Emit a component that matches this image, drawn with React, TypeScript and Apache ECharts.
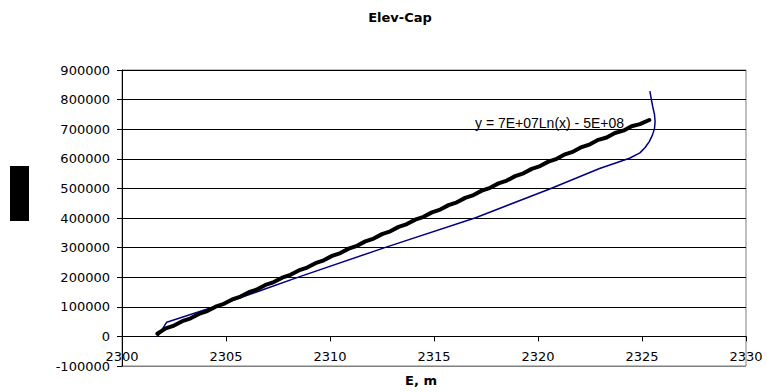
import React, { useEffect, useRef } from "react";
import * as echarts from "echarts";

const title = "Elev-Cap";
const xAxisName = "E, m";
const trendLabel = "y = 7E+07Ln(x) - 5E+08";

// Black (thick) series: elevation vs capacity
const blackX = [
  2301.7, 2302.1, 2302.5, 2302.9, 2303.3, 2303.7, 2304.1, 2304.5, 2304.9, 2305.3,
  2305.7, 2306.1, 2306.5, 2306.9, 2307.3, 2307.7, 2308.1, 2308.5, 2308.9, 2309.3,
  2309.7, 2310.1, 2310.5, 2310.9, 2311.3, 2311.7, 2312.1, 2312.5, 2312.9, 2313.3,
  2313.7, 2314.1, 2314.5, 2314.9, 2315.3, 2315.7, 2316.1, 2316.5, 2316.9, 2317.3,
  2317.7, 2318.1, 2318.5, 2318.9, 2319.3, 2319.7, 2320.1, 2320.5, 2320.9, 2321.3,
  2321.7, 2322.1, 2322.5, 2322.9, 2323.3, 2323.7, 2324.1, 2324.5, 2324.9, 2325.35,
];
const blackY = [
  9000, 27000, 36500, 51500, 61000, 76000, 85500, 100500, 110000, 125000,
  134500, 149500, 159000, 174000, 183500, 198500, 208000, 223000, 232500, 247500,
  257000, 272000, 281500, 296500, 306000, 321000, 330500, 345500, 355000, 370000,
  379500, 394500, 404000, 419000, 428500, 443500, 453000, 468000, 477500, 492500,
  502000, 517000, 526500, 541500, 551000, 566000, 575500, 590500, 600000, 615000,
  624500, 639500, 649000, 664000, 672000, 687000, 695000, 710000, 717000, 731000,
];

// Blue (thin) series
const blueX = [
  2301.72, 2302.15, 2304.7, 2308.55, 2312.63, 2317.0, 2320.56, 2322.96, 2324.4,
  2324.9, 2325.15, 2325.35, 2325.5, 2325.6, 2325.63, 2325.6, 2325.52, 2325.45, 2325.38,
];
const blueY = [
  0, 48000, 106000, 202000, 300000, 401000, 498000, 567000, 602000,
  620000, 638000, 658000, 680000, 702000, 725000, 750000, 775000, 800000, 829000,
];

const xMin = 2300;
const xMax = 2330;
const xStep = 5;
const yMin = -100000;
const yMax = 900000;
const yStep = 100000;

export default function App() {
  const ref = useRef<HTMLDivElement>(null);
  useEffect(() => {
    document.body.style.margin = "0";
    if (!ref.current) return;
    const chart = echarts.init(ref.current, undefined, { renderer: "svg" });
    const tickFont = "DejaVu Sans";
    const gridTop = 70;
    const gridBottom = 26;
    const plotH = 392 - gridTop - gridBottom;
    const zeroOffset = (plotH * (0 - yMin)) / (yMax - yMin);
    const splitColors = ["#808080"];
    for (let i = 1; i <= (yMax - yMin) / yStep; i++) splitColors.push("#000000");
    chart.setOption({
      animation: false,
      backgroundColor: "#ffffff",
      grid: {
        left: 122,
        right: 21,
        top: gridTop,
        bottom: gridBottom,
        show: true,
        borderColor: "#808080",
        borderWidth: 1,
        backgroundColor: "transparent",
      },
      xAxis: {
        type: "value",
        min: xMin,
        max: xMax,
        interval: xStep,
        offset: -zeroOffset,
        splitLine: { show: false },
        axisLine: { show: true, onZero: false, lineStyle: { color: "#000", width: 1 } },
        axisTick: { show: true, inside: false, length: 5, lineStyle: { color: "#000" } },
        axisLabel: {
          color: "#000",
          fontFamily: tickFont,
          fontSize: 13,
          margin: 14,
          formatter: (v: number) => String(v),
        },
      },
      yAxis: {
        type: "value",
        min: yMin,
        max: yMax,
        interval: yStep,
        axisLine: { show: true, onZero: false, lineStyle: { color: "#000", width: 1 } },
        axisTick: { show: true, inside: false, length: 5, lineStyle: { color: "#000" } },
        axisLabel: {
          color: "#000",
          fontFamily: tickFont,
          fontSize: 13,
          margin: 12,
          formatter: (v: number) => String(v),
        },
        splitLine: { show: true, lineStyle: { color: splitColors, width: 1 } },
      },
      series: [
        {
          type: "line",
          name: "blue",
          data: blueX.map((x, i) => [x, blueY[i]]),
          showSymbol: false,
          symbol: "none",
          lineStyle: { color: "#000080", width: 1.5 },
          z: 3,
        },
        {
          type: "line",
          name: "black",
          data: blackX.map((x, i) => [x, blackY[i]]),
          showSymbol: false,
          symbol: "none",
          lineStyle: { color: "#000000", width: 4, join: "round", cap: "round" },
          z: 4,
        },
      ],
      graphic: [
        {
          type: "text",
          x: 400,
          y: 17,
          style: {
            text: title,
            fontFamily: "DejaVu Sans",
            fontWeight: "bold",
            fontSize: 13,
            fill: "#000",
            align: "center",
            verticalAlign: "middle",
          },
        },
        {
          type: "text",
          x: 421,
          y: 380,
          style: {
            text: xAxisName,
            fontFamily: "DejaVu Sans",
            fontWeight: "bold",
            fontSize: 13,
            fill: "#000",
            align: "center",
            verticalAlign: "middle",
          },
        },
        {
          type: "text",
          x: 475,
          y: 123,
          z: 10,
          style: {
            text: trendLabel,
            fontFamily: "Liberation Sans",
            fontSize: 14,
            fill: "#000",
            align: "left",
            verticalAlign: "middle",
          },
        },
        {
          type: "rect",
          shape: { x: 10, y: 166, width: 19, height: 55 },
          style: { fill: "#000000" },
        },
      ],
    });
    return () => chart.dispose();
  }, []);
  return <div ref={ref} style={{ width: 767, height: 392 }} />;
}
